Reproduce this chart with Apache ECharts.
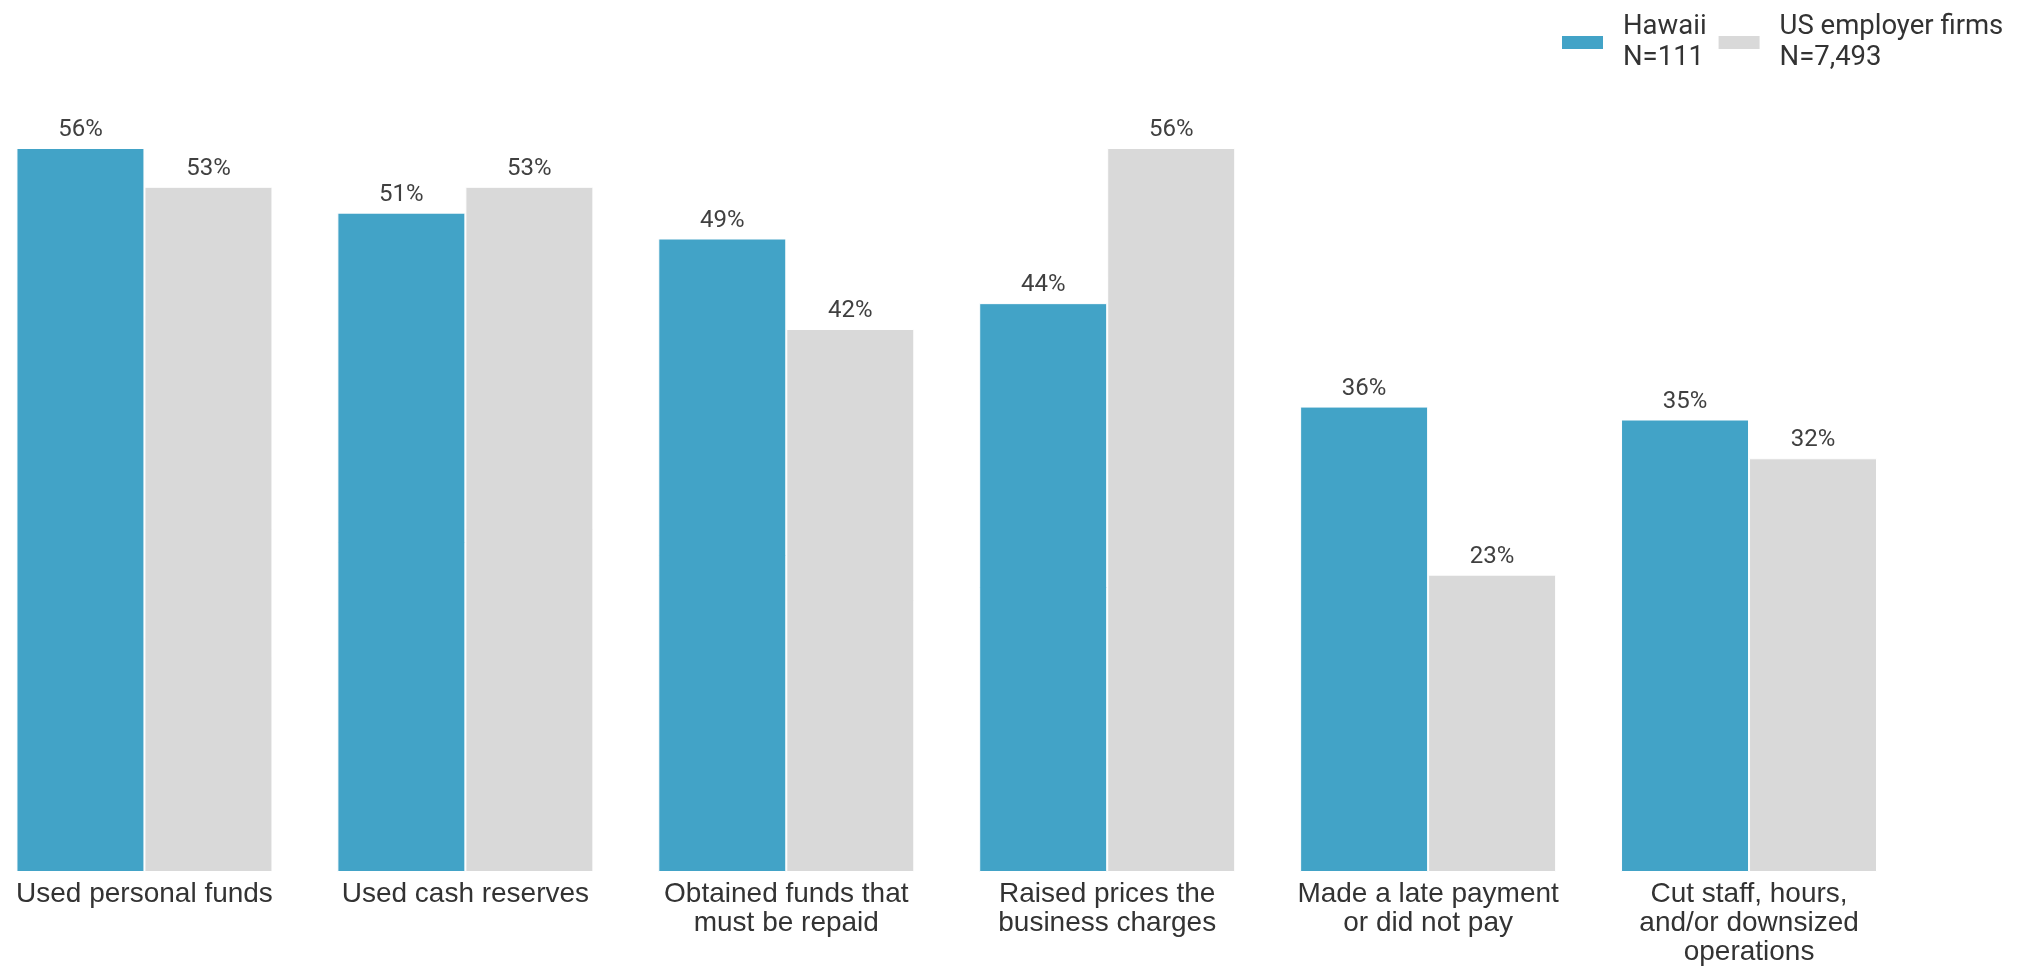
<!DOCTYPE html>
<html>
<head>
<meta charset="utf-8">
<script src="https://cdn.jsdelivr.net/npm/echarts@6/dist/echarts.min.js"></script>
<style>
html,body{margin:0;padding:0;background:#fff;overflow:hidden;}
#wrap{position:relative;width:2029px;height:970px;overflow:hidden;}
#chart{position:absolute;left:-16px;top:0;width:2045px;height:970px;}
</style>
</head>
<body>
<div id="wrap"><div id="chart"></div></div>
<script>
const categories = [
  'Used personal funds',
  'Used cash reserves',
  'Obtained funds that\nmust be repaid',
  'Raised prices the\nbusiness charges',
  'Made a late payment\nor did not pay',
  'Cut staff, hours,\nand/or downsized\noperations'
];
const seriesNames = ['Hawaii', 'US employer firms'];
const sampleSizes = ['N=111', 'N=7,493'];
const hawaiiValues = [56, 51, 49, 44, 36, 35];
const usValues = [53, 53, 42, 56, 23, 32];

const chart = echarts.init(document.getElementById('chart'));
const labelStyle = {
  show: true,
  position: 'top',
  distance: 6,
  formatter: p => p.value + '%',
  fontFamily: 'Roboto',
  fontSize: 24,
  color: '#404040'
};
chart.setOption({
  animation: false,
  legend: {
    left: 1576,
    top: 5,
    padding: 0,
    itemWidth: 43,
    itemHeight: 15,
    itemGap: 10,
    icon: 'rect',
    formatter: name => name + '\n' + sampleSizes[seriesNames.indexOf(name)],
    textStyle: {
      fontFamily: 'Roboto',
      fontSize: 27.5,
      lineHeight: 30.5,
      color: '#333',
      padding: [0, 0, 14, 14]
    }
  },
  grid: {
    left: 0,
    right: 119.5,
    top: 148,
    bottom: 98,
    containLabel: false
  },
  xAxis: {
    type: 'category',
    data: categories,
    axisLine: { show: false },
    axisTick: { show: false },
    axisLabel: {
      interval: 0,
      margin: 8,
      fontFamily: 'Liberation Sans',
      fontSize: 28,
      lineHeight: 29,
      color: '#333'
    }
  },
  yAxis: {
    type: 'value',
    min: 0,
    max: 56,
    show: false,
    splitLine: { show: false }
  },
  series: [
    {
      name: seriesNames[0],
      type: 'bar',
      data: hawaiiValues,
      barWidth: 128,
      barGap: '0%',
      itemStyle: { color: '#42A3C7', borderColor: '#ffffff', borderWidth: 1 },
      label: labelStyle
    },
    {
      name: seriesNames[1],
      type: 'bar',
      data: usValues,
      barWidth: 128,
      barGap: '0%',
      itemStyle: { color: '#D9D9D9', borderColor: '#ffffff', borderWidth: 1 },
      label: labelStyle
    }
  ]
});
</script>
</body>
</html>
